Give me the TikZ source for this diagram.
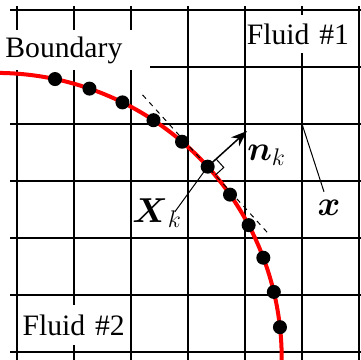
\documentclass[tikz,border=0pt]{standalone}
\usepackage{fontspec}
\setmainfont{Liberation Serif}
\usepackage{amsmath, amssymb}
\usetikzlibrary{arrows.meta, calc}

\begin{document}
\begin{tikzpicture}[
  font=\fontsize{14.8}{17}\selectfont,
  gridline/.style={line width=1pt},
  boundary/.style={red, line width=2pt},
  marker/.style={circle, fill=black, inner sep=0pt, minimum size=7pt},
  leader/.style={line width=0.5pt},
  tangent/.style={line width=0.5pt, dash pattern=on 2.5pt off 2.5pt},
  normal/.style={line width=0.75pt, -{Stealth[length=8pt, width=6pt, inset=2.5pt]}},
  labelbox/.style={fill=white, anchor=north west, align=left, inner ysep=0pt},
  mathlabel/.style={font=\fontsize{17.28}{20}\selectfont, inner sep=1pt}
]
  \useasboundingbox (-0.298,-0.123) rectangle (6.035,6.175);
  \clip (-0.298,-0.123) rectangle (6.035,6.175);
  \foreach \i in {0,...,6} {
    \draw[gridline] (\i,-0.2) -- (\i,6.07);
    \draw[gridline] (-0.12,\i) -- (6.2,\i);
  }
  \node[labelbox, text width=69.6pt, minimum height=0.70cm, inner xsep=2.5pt] (bnd) at (-0.298,5.649) {Boundary};
  \node[labelbox, text width=1.94cm, minimum height=0.667cm, inner xsep=0pt] (fluid1) at (4.025,5.912) {Fluid \#1};
  \node[labelbox, text width=51pt, minimum height=0.70cm, inner xsep=2pt] (fluid2) at (0.02,0.825) {Fluid \#2};

  \coordinate (O) at (-0.366,-0.114);
  \draw[boundary] ($(O)+(91:5.01)$) arc[start angle=91, end angle=-3, radius=5.01];
  \coordinate (Xk) at ($(O)+(42.2:5.01)$);
  \coordinate (t1) at ($(Xk)+(132.2:1.7)$);
  \coordinate (t2) at ($(Xk)+(-47.8:1.6)$);
  \draw[tangent] (t1) -- (t2);
  \foreach \k in {0,...,10}
    \node[marker] (p\k) at ($(O)+({6.3+7.18*\k}:5.01)$) {};

  \coordinate (ntip) at ($(p5.center)+(42.2:0.93)$);
  \draw[normal] (p5.center) -- (ntip);
  \draw[leader] ($(p5.center)+(42.2:0.2)$) -- ++(-47.8:0.2) -- ($(p5.center)+(-47.8:0.2)$);

  \node[mathlabel] (nk) at (4.38,3.45) {$\boldsymbol{n}_k$};
  \node[mathlabel] (xk) at (2.46,2.43) {$\boldsymbol{X}_k$};
  \node[mathlabel] (xpos) at (5.474,2.526) {$\boldsymbol{x}$};
  \coordinate (xkfoot) at (2.77,2.46);
  \draw[leader] (xkfoot) -- (p5.center);
  \coordinate (gridpt) at (5,4);
  \coordinate (xfoot) at (5.386,2.81);
  \draw[leader] (gridpt) -- (xfoot);
\end{tikzpicture}
\end{document}
